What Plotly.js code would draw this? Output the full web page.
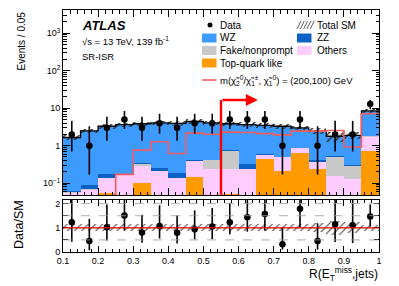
<!DOCTYPE html>
<html><head><meta charset="utf-8">
<script src="https://cdn.plot.ly/plotly-3.0.1.min.js"></script>
<style>html,body{margin:0;padding:0;background:#fff}#chart{width:399px;height:286px}</style>
</head><body><div id="chart"></div>
<script>
// ---- data ----
const binEdges = [0.10,0.15,0.20,0.25,0.30,0.35,0.40,0.45,0.50,0.55,0.60,0.65,0.70,0.75,0.80,0.85,0.90,0.95,1.00];
const topQuark = [0.009,0.009,0.055,0.009,0.103,0.009,0.009,0.15,0.009,0.052,0.009,0.44,0.21,0.65,0.235,0.009,0.009,0.73];
const others   = [0.047,0.058,0.082,0.16,0.19,0.20,0.13,0.235,0.225,0.183,0.225,0.12,0.28,0.20,0.13,0.15,0.117,1.02];
const fake     = [0.002,0.002,0.002,0.002,0.042,0.002,0.002,0.005,0.18,0.50,0.003,0.005,0.005,0.005,0.005,0.35,0.165,0.02];
const zz       = [0.005,0.02,0.033,0.01,0.015,0.05,0.05,0.02,0.01,0.02,0.085,0.03,0.01,0.03,0.04,0.01,0.02,0.085];
const wz       = [1.59,2.41,3.13,3.45,3.50,3.78,3.76,4.01,3.62,3.10,3.35,2.89,2.80,2.12,2.04,1.27,1.57,6.65];
const bkgRelErr= [0.14,0.14,0.14,0.14,0.14,0.14,0.14,0.14,0.14,0.14,0.14,0.14,0.14,0.14,0.18,0.28,0.22,0.12];
const signal   = [0.03,0.03,0.03,0.172,0.76,1.28,0.62,2.16,2.03,2.30,2.26,2.10,1.95,2.45,2.45,2.55,0.92,7.1];
const data     = [2,1,3,5,3,4,3,4,4,5,5,5,1,5,1,2,2,13];
const dataLo   = [0.7,0.17,1.35,2.8,1.35,2.1,1.35,2.1,2.1,2.8,2.8,2.8,0.17,2.8,0.17,0.7,0.7,9.4];
const dataHi   = [4.6,3.3,5.9,8.4,5.9,7.1,5.9,7.1,7.1,8.4,8.4,8.4,3.3,8.4,3.3,4.6,4.6,16.6];
const ratio    = [1.23,0.45,1.02,1.51,0.81,1.08,0.80,0.94,1.05,1.23,1.44,1.57,0.32,1.79,0.45,1.15,1.11,1.47];
const ratioLo  = [0.42,0.07,0.48,0.90,0.38,0.56,0.35,0.52,0.53,0.73,0.84,0.88,0.10,1.02,0.10,0.41,0.37,1.05];
const ratioHi  = [2.6,1.37,1.96,2.5,1.54,1.93,1.51,1.72,1.82,2.03,2.4,2.5,1.02,2.9,1.19,2.6,2.6,1.96];
const cutValue = 0.55, cutArrowEnd = 0.655, cutArrowHeight = 16.5;
const yTickVals = [0.1,1,10,100,1000];
const yTickText = ['10<sup>\u22121</sup>','1','10','10<sup>2</sup>','10<sup>3</sup>'];

// ---- derived ----
const n = data.length;
const centers = binEdges.slice(0,n).map((e,i)=>(e+binEdges[i+1])/2);
const widths = binEdges.slice(0,n).map((e,i)=>binEdges[i+1]-e);
const c1 = topQuark;
const c2 = c1.map((v,i)=>v+others[i]);
const c3 = c2.map((v,i)=>v+fake[i]);
const c4 = c3.map((v,i)=>v+zz[i]);
const total = c4.map((v,i)=>v+wz[i]);
const stepY = a => a.concat([a[a.length-1]]);

const COL = {wz:'#3d9bff', zz:'#0b62c4', fake:'#c8c8c8', oth:'#ffccff', top:'#ff9a00', sig:'#f25c5c'};
const FONT = 'Liberation Sans, Arial, Helvetica, sans-serif';

function bar(y, color, name){
  return {type:'bar', x:centers, y:y, width:widths, name:name, marker:{color:color, line:{width:0}},
          xaxis:'x', yaxis:'y', hoverinfo:'skip'};
}
const hatch = {shape:'/', fgcolor:'#333', bgcolor:'rgba(0,0,0,0)', size:5, solidity:0.3, fillmode:'replace'};
const hatchR = {shape:'/', fgcolor:'#666', bgcolor:'rgba(0,0,0,0)', size:5, solidity:0.25, fillmode:'replace'};

const traces = [
  bar(total, COL.wz, 'WZ'),
  bar(c4, COL.zz, 'ZZ'),
  bar(c3, COL.fake, 'Fake/nonprompt'),
  bar(c2, COL.oth, 'Others'),
  bar(c1, COL.top, 'Top-quark like'),
  {type:'bar', x:centers, width:widths, base: total.map((t,i)=>t*(1-bkgRelErr[i])),
   y: total.map((t,i)=>2*t*bkgRelErr[i]), marker:{color:'rgba(0,0,0,0)', pattern:hatch, line:{width:0}},
   xaxis:'x', yaxis:'y', hoverinfo:'skip'},
  {type:'scatter', mode:'lines', x:binEdges, y:stepY(total), line:{shape:'hv', color:'black', width:1.3},
   xaxis:'x', yaxis:'y', hoverinfo:'skip'},
  {type:'scatter', mode:'lines', x:binEdges, y:stepY(signal), line:{shape:'hv', color:COL.sig, width:1.6},
   xaxis:'x', yaxis:'y', hoverinfo:'skip'},
  {type:'scatter', mode:'markers', x:centers, y:data, marker:{color:'black', size:6.5},
   error_y:{type:'data', symmetric:false, array:dataHi.map((h,i)=>h-data[i]), arrayminus:data.map((d,i)=>d-dataLo[i]),
            color:'black', thickness:1.6, width:0},
   xaxis:'x', yaxis:'y', hoverinfo:'skip'},
  // ratio panel
  {type:'bar', x:centers, width:widths, base: bkgRelErr.map(e=>1-e), y: bkgRelErr.map(e=>2*e),
   marker:{color:'rgba(0,0,0,0)', pattern:hatchR, line:{width:0}}, xaxis:'x2', yaxis:'y2', hoverinfo:'skip'},
  {type:'scatter', mode:'markers', x:centers, y:ratio, marker:{color:'black', size:6.5},
   error_y:{type:'data', symmetric:false, array:ratioHi.map((h,i)=>h-ratio[i]), arrayminus:ratio.map((r,i)=>r-ratioLo[i]),
            color:'black', thickness:1.6, width:0},
   xaxis:'x2', yaxis:'y2', hoverinfo:'skip'}
];

// pixel -> paper helpers
const L=63, R=379, T=10, B=252, W=R-L, H=B-T;
const px = x => (x-L)/W, py = y => (B-y)/H;

const minorLog = [];
for (let d=-2; d<=3; d++) for (let k=2;k<=9;k++) minorLog.push(k*Math.pow(10,d));

const axisCommon = {showline:true, linecolor:'black', linewidth:1, mirror:'allticks', ticks:'inside',
  tickcolor:'black', showgrid:false, zeroline:false, tickfont:{family:FONT, size:9, color:'black'}};

const shapes = [
  {type:'line', xref:'x', yref:'y', x0:cutValue, x1:cutValue, y0:0.049, y1:cutArrowHeight, line:{color:'#ff0000', width:2.4}},
  {type:'line', xref:'x2', yref:'y2', x0:0.1, x1:1, y0:0.5, y1:0.5, line:{color:'#999', width:0.8, dash:'dash'}},
  {type:'line', xref:'x2', yref:'y2', x0:0.1, x1:1, y0:1.5, y1:1.5, line:{color:'#999', width:0.8, dash:'dash'}},
  {type:'line', xref:'x2', yref:'y2', x0:0.1, x1:1, y0:2.0, y1:2.0, line:{color:'#999', width:0.8, dash:'dash'}},
  {type:'line', xref:'x2', yref:'y2', x0:0.1, x1:1, y0:1, y1:1, line:{color:'#e00000', width:1.2}},
];
function box(x0,yc,color){ shapes.push({type:'rect', xref:'paper', yref:'paper', x0:px(x0), x1:px(x0+14.5), y0:py(yc+4.5), y1:py(yc-4.5), fillcolor:color, line:{width:0}}); }
box(202,38,COL.wz); box(297,38,COL.zz); box(202,50.5,COL.fake); box(297,50.5,COL.oth); box(202,63,COL.top);
shapes.push({type:'line', xref:'paper', yref:'paper', x0:px(202), x1:px(216.5), y0:py(80), y1:py(80), line:{color:COL.sig, width:1.6}});
shapes.push({type:'circle', xref:'paper', yref:'paper', x0:px(207.5), x1:px(212.5), y0:py(27.5), y1:py(22.5), fillcolor:'black', line:{width:0}});
for (let k=0;k<5;k++){ const x0=297+k*3.3; shapes.push({type:'line', xref:'paper', yref:'paper', x0:px(x0), x1:px(x0+4), y0:py(29), y1:py(21), line:{color:'#333', width:0.8}}); }

function txt(x,y,t,size,extra){ return Object.assign({xref:'paper', yref:'paper', x:px(x), y:py(y), text:t, showarrow:false,
  xanchor:'left', yanchor:'middle', font:{family:FONT, size:size, color:'black'}}, extra||{}); }

const annotations = [
  txt(80,25,'<b><i>ATLAS</i></b>',13),
  txt(80,41,'\u221As = 13 TeV, 139 fb<sup>-1</sup>',9.5),
  txt(80,56,'SR-ISR',9.5),
  txt(218,25,'Data',10), txt(315,25,'Total SM',10),
  txt(218,38,'WZ',10), txt(315,38,'ZZ',10),
  txt(218,50.5,'Fake/nonprompt',10), txt(315,50.5,'Others',10),
  txt(218,63,'Top-quark like',10),
  txt(218,80,'m(\u03C7\u0303<sub>2</sub><sup>0</sup>/\u03C7\u0303<sub>1</sub><sup>\u00B1</sup>, \u03C7\u0303<sub>1</sub><sup>0</sup>) = (200,100) GeV',9.5),
  txt(380,274,'R(E<sub>T</sub><sup>miss</sup>,jets)',12,{xanchor:'right'}),
  txt(21,10,'Events / 0.05',10,{xanchor:'center', yanchor:'top', textangle:-90}),
  txt(19,225,'Data/SM',12.5,{xanchor:'center', yanchor:'middle', textangle:-90}),
  {xref:'x', yref:'y', axref:'x', ayref:'y', x:cutArrowEnd, y:Math.log10(cutArrowHeight), ax:cutValue, ay:Math.log10(cutArrowHeight),
   text:'', showarrow:true, arrowhead:2, arrowsize:1, arrowwidth:2.4, arrowcolor:'#ff0000', standoff:0, startstandoff:0}
];

const layout = {
  width:399, height:286, margin:{l:L, r:399-R, t:T, b:286-B}, paper_bgcolor:'white', plot_bgcolor:'white',
  showlegend:false, barmode:'overlay', bargap:0,
  xaxis: Object.assign({}, axisCommon, {domain:[0,1], range:[0.1,1.0], anchor:'y', showticklabels:false,
     tickvals:[0.1,0.2,0.3,0.4,0.5,0.6,0.7,0.8,0.9,1.0], ticklen:7,
     minor:{dtick:0.02, tick0:0.1, ticks:'inside', ticklen:3.5, tickcolor:'black', showgrid:false}}),
  yaxis: Object.assign({}, axisCommon, {domain:[(B-195)/H, 1], type:'log', range:[-1.315, 3.62], anchor:'x',
     tickmode:'array', tickvals:yTickVals, ticktext:yTickText, ticklen:7,
     minor:{tickmode:'array', tickvals:minorLog, ticks:'inside', ticklen:3.5, tickcolor:'black', showgrid:false}}),
  xaxis2: Object.assign({}, axisCommon, {domain:[0,1], range:[0.1,1.0], anchor:'y2', matches:'x',
     tickmode:'array', tickvals:[0.1,0.2,0.3,0.4,0.5,0.6,0.7,0.8,0.9,1.0],
     ticktext:['0.1','0.2','0.3','0.4','0.5','0.6','0.7','0.8','0.9','1'], ticklen:6, ticklabelstandoff:0,
     minor:{dtick:0.02, tick0:0.1, ticks:'inside', ticklen:3, tickcolor:'black', showgrid:false}}),
  yaxis2: Object.assign({}, axisCommon, {domain:[0, (B-200)/H], range:[0, 2.15], anchor:'x2',
     tickmode:'array', tickvals:[0,1,2], ticktext:['0','1','2'], ticklen:5,
     minor:{tickmode:'array', tickvals:[0.5,1.5], ticks:'inside', ticklen:5, tickcolor:'black', showgrid:false}}),
  shapes: shapes, annotations: annotations
};

Plotly.newPlot('chart', traces, layout, {staticPlot:true, displayModeBar:false});
</script></body></html>
